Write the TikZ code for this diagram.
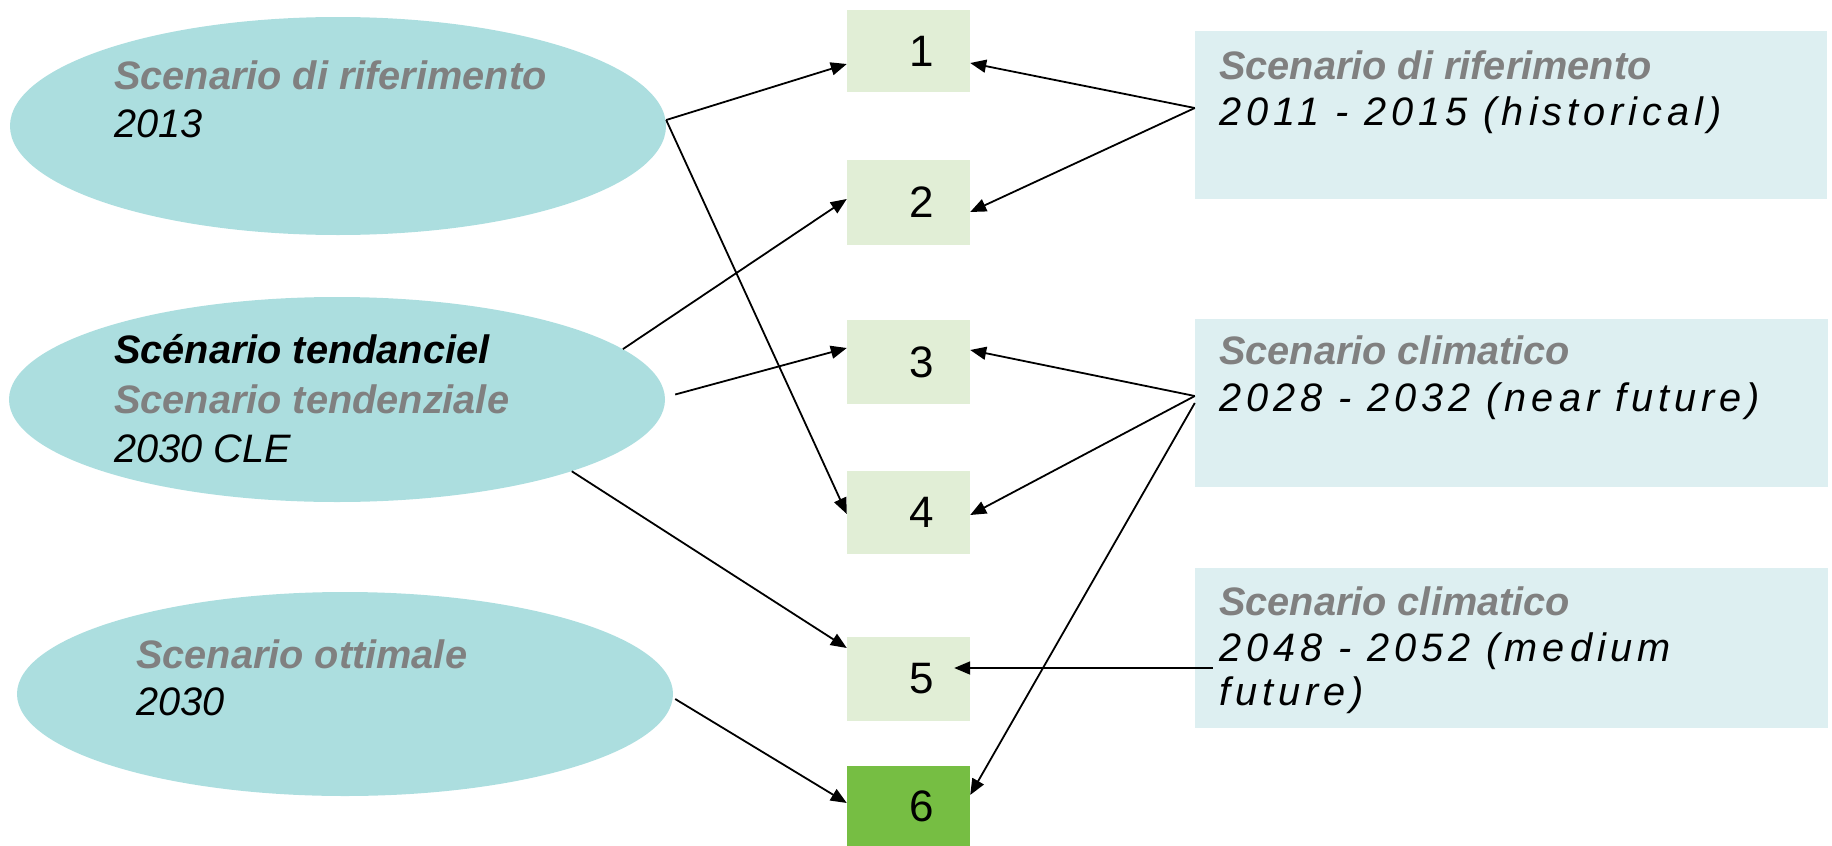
\documentclass[tikz,border=0pt]{standalone}
\usepackage{fontspec}
\setmainfont{Liberation Sans}
\newfontfamily\spacedsans[LetterSpace=12.5]{Liberation Sans}
\usetikzlibrary{shapes.geometric,arrows.meta}
\definecolor{ellfill}{RGB}{172,222,223}
\definecolor{rboxfill}{RGB}{221,239,241}
\definecolor{nboxfill}{RGB}{225,238,214}
\definecolor{nboxdark}{RGB}{118,190,67}
\definecolor{greytxt}{RGB}{128,128,128}
\begin{document}
\begin{tikzpicture}[x=1pt,y=-1pt,
  scen/.style={ellipse,fill=ellfill,inner sep=0pt,minimum width=656pt,minimum height=#1},
  period/.style={rectangle,fill=rboxfill,inner sep=0pt,minimum width=633pt,minimum height=#1},
  numbox/.style={rectangle,fill=nboxfill,inner sep=0pt,minimum width=123pt,minimum height=84pt,
    font=\fontsize{44}{50}\selectfont},
  title/.style={anchor=base west,inner sep=0pt,text=greytxt,
    font=\fontsize{39.7}{47}\selectfont\bfseries\itshape},
  titleblack/.style={title,text=black},
  yearline/.style={anchor=base west,inner sep=0pt,text=black,
    font=\fontsize{39.7}{47}\selectfont\itshape},
  spacedline/.style={anchor=base west,inner sep=0pt,text=black,
    font=\fontsize{39.7}{47}\selectfont\spacedsans\itshape},
  conn/.style={draw=black,line width=1.8pt,-{Triangle[length=16pt,width=13pt]}}]
\useasboundingbox (0,0) rectangle (1832,846);

% scenario ellipses
\node[scen=218pt] (e1) at (338,126) {};
\node[scen=205pt] (e2) at (337,399.5) {};
\node[scen=204pt] (e3) at (345,694) {};

\node[title] (e1a) at (114,89) {Scenario di riferimento};
\node[yearline] (e1b) at (114,137) {2013};

\node[titleblack] (e2a) at (114,363) {Scénario tendanciel};
\node[title] (e2b) at (114,413) {Scenario tendenziale};
\node[yearline] (e2c) at (114,462) {2030 CLE};

\node[title] (e3a) at (136,668) {Scenario ottimale};
\node[yearline] (e3b) at (136,715) {2030};

% climate period boxes
\node[period=168pt,minimum width=632pt] (r1) at (1511,115) {};
\node[period=168pt] (r2) at (1511.5,403) {};
\node[period=160pt] (r3) at (1511.5,648) {};

\node[title] (r1a) at (1219,79) {Scenario di riferimento};
\node[spacedline] (r1b) at (1219,125) {2011 - 2015 (historical)};

\node[title] (r2a) at (1219,364) {Scenario climatico};
\node[spacedline] (r2b) at (1219,411) {2028 - 2032 (near future)};

\node[title] (r3a) at (1219,615) {Scenario climatico};
\node[spacedline] (r3b) at (1219,661) {2048 - 2052 (medium};
\node[spacedline] (r3c) at (1219,705) {future)};

% numbered combinations
\node[numbox,minimum height=82pt] (b1) at (908.5,51) {\hspace*{27pt}1};
\node[numbox,minimum height=85pt] (b2) at (908.5,202.5) {\hspace*{27pt}2};
\node[numbox] (b3) at (908.5,362) {\hspace*{27pt}3};
\node[numbox,minimum height=83pt] (b4) at (908.5,512.5) {\hspace*{27pt}4};
\node[numbox] (b5) at (908.5,679) {\hspace*{27pt}5};
\node[numbox,fill=nboxdark,minimum height=80pt] (b6) at (908.5,806) {\hspace*{27pt}6};

% scenario -> combination
\draw[conn] ([yshift=6pt]e1.east) -- ([yshift=-13pt]b1.west);
\draw[conn] ([yshift=6pt]e1.east) -- ([yshift=-1.5pt]b4.west);
\draw[conn] (e2.10) -- ([yshift=3.5pt]b2.west);
\draw[conn] ([xshift=10pt,yshift=5pt]e2.east) -- ([yshift=14pt]b3.west);
\draw[conn] (e2.-17) -- ([yshift=31pt]b5.west);
\draw[conn] ([xshift=2pt,yshift=-5pt]e3.east) -- ([yshift=3pt]b6.west);

% climate period -> combination
\draw[conn] ([yshift=7pt]r1.west) -- ([yshift=-12pt]b1.east);
\draw[conn] ([yshift=7pt]r1.west) -- ([yshift=-9.5pt]b2.east);
\draw[conn] ([yshift=7pt]r2.west) -- ([yshift=12pt]b3.east);
\draw[conn] ([yshift=7pt]r2.west) -- ([yshift=-2.5pt]b4.east);
\draw[conn] (r2.west) -- ([yshift=11pt]b6.east);
\draw[conn] ([xshift=18pt,yshift=-20pt]r3.west) -- ([xshift=-16pt,yshift=11pt]b5.east);
\end{tikzpicture}
\end{document}
